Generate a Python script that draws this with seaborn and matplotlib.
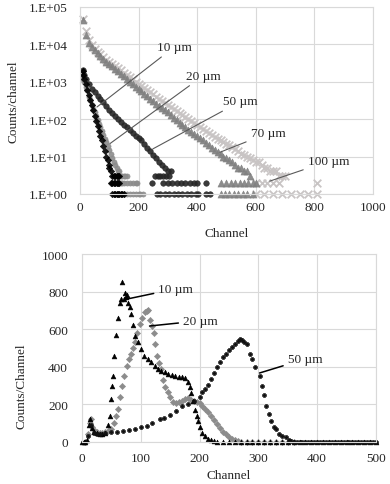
import numpy as np
import pandas as pd
import matplotlib
matplotlib.use("Agg")
import matplotlib.pyplot as plt
import seaborn as sns
from matplotlib.ticker import FixedLocator, FuncFormatter, MultipleLocator

# Top panel: counts/channel (log) vs channel
top_ch_10 = [10, 12, 15, 20, 25, 30, 35, 40, 45, 50, 55, 60, 65, 70, 75, 80, 85, 90, 95, 100,
             100, 105, 110, 115, 120, 125, 130, 135,
             105, 110, 115, 120, 125, 130, 135,
             110, 115, 120, 125, 130, 135, 140, 145, 150]
top_ct_10 = [1900, 1500, 1200, 850, 600, 430, 320, 240, 170, 120, 90, 66, 48, 36, 27, 19, 14, 10, 8, 6,
             5, 4, 3, 3, 3, 3, 3, 3,
             2, 2, 2, 2, 2, 2, 2,
             1, 1, 1, 1, 1, 1, 1, 1, 1]

top_ch_20 = [10, 15, 20, 25, 30, 35, 40, 45, 50, 55, 60, 65, 70, 75, 80, 85, 90, 95, 100, 105, 110, 115, 120,
             125, 130, 135, 140, 145, 150, 155, 160,
             140, 145, 150, 160, 170, 180, 190, 195,
             150, 160, 170, 180, 190, 200, 205, 215]
top_ct_20 = [1200, 950, 700, 600, 400, 320, 240, 190, 150, 120, 95, 75, 60, 48, 38, 30, 24, 19, 15, 12, 9, 7, 6,
             5, 4, 4, 3, 3, 3, 3, 3,
             2, 2, 2, 2, 2, 2, 2, 2,
             1, 1, 1, 1, 1, 1, 1, 1]

top_ch_50 = [10, 15, 20, 30, 40, 50, 60, 70, 80, 90, 100, 110, 120, 130, 140, 150, 160, 170, 180,
             190, 200, 210, 220, 230, 240, 250, 260, 270, 280, 290, 300, 310,
             255, 265, 275, 285, 295, 305,
             245, 285, 300, 315, 330, 345, 360, 375, 390, 400, 432,
             262, 275, 290, 305, 320, 335, 350, 365, 380, 395, 404, 432, 445]
top_ct_50 = [2000, 1500, 1150, 850, 650, 520, 420, 340, 280, 220, 180, 145, 120, 100, 85, 70, 60, 50, 42,
             36, 31, 27, 22, 17, 14, 11, 9, 7, 6, 5, 4, 4,
             3, 3, 3, 3, 3, 3,
             2, 2, 2, 2, 2, 2, 2, 2, 2, 2, 2,
             1, 1, 1, 1, 1, 1, 1, 1, 1, 1, 1, 1, 1]

top_ch_70 = [10, 20, 30, 40, 50, 60, 70, 80, 90, 100, 110, 120, 130, 140, 150, 160, 170, 180, 190, 200,
             210, 220, 230, 240, 250, 260, 270, 280, 290, 300, 310, 320, 330, 340, 350, 360, 370, 380,
             390, 400, 410, 420, 430, 440, 450, 460, 470, 480, 490, 500, 510, 520, 530, 540, 550, 560,
             570, 580,
             480, 500, 515, 530, 545, 560, 575, 590, 600,
             480, 495, 510, 525, 540, 555, 570, 590]
top_ct_70 = [44000, 18000, 11000, 8200, 6800, 5700, 4800, 4000, 3400, 2950, 2550, 2200, 1900, 1600, 1380, 1150, 1000, 850, 740, 640,
             550, 470, 410, 350, 300, 260, 225, 195, 170, 150, 128, 110, 95, 80, 70, 60, 52, 45,
             40, 36, 31, 27, 23, 20, 17, 15, 13, 12, 10, 9, 8, 7, 6, 5, 5, 4,
             4, 3,
             2, 2, 2, 2, 2, 2, 2, 2, 2,
             1, 1, 1, 1, 1, 1, 1, 1]

top_ch_100 = [10, 20, 30, 40, 50, 60, 70, 80, 90, 100, 110, 120, 130, 140, 150, 160, 170, 180, 190, 200,
              210, 220, 230, 240, 250, 260, 270, 280, 290, 300, 310, 320, 330, 340, 350, 360, 370, 380,
              390, 400, 410, 420, 430, 440, 450, 460, 470, 480, 490, 500, 510, 520, 530, 540, 550, 560,
              570, 580, 590, 600, 610, 620, 630, 640, 650, 660, 670, 680, 690, 700,
              600, 620, 640, 660, 680, 810,
              600, 630, 660, 690, 720, 750, 780, 810]
top_ct_100 = [48000, 22000, 13000, 9500, 7600, 6300, 5400, 4600, 3900, 3400, 3000, 2600, 2300, 2000, 1700, 1500, 1300, 1150, 1000, 870,
              770, 680, 600, 520, 460, 400, 350, 310, 270, 240, 210, 185, 165, 145, 130, 115, 100, 90,
              80, 70, 62, 55, 48, 43, 38, 34, 30, 27, 24, 22, 20, 18, 16, 14, 12, 11,
              10, 9, 8, 7, 7, 6, 5, 5, 4, 4, 4, 3, 3, 3,
              2, 2, 2, 2, 2, 2,
              1, 1, 1, 1, 1, 1, 1, 1]

# Bottom panel: counts/channel (linear) vs channel
bot_ch_10 = [0, 3, 6, 9, 12, 14, 17, 21, 25, 30, 35, 40, 44, 47, 49, 51, 53, 55, 58, 61, 64, 66, 69,
             71, 73, 75, 77, 79, 81, 84, 87, 90, 95, 101, 106, 112, 118, 124, 130, 135, 141, 147,
             153, 159, 165, 170, 175, 180, 183, 186, 189, 192, 195, 198, 201, 205, 210, 215, 220, 225, 230]
bot_ct_10 = [0, 0, 0, 10, 90, 120, 75, 55, 50, 45, 45, 50, 90, 140, 230, 300, 350, 460, 570, 660, 740, 760, 850,
             760, 790, 770, 780, 740, 720, 680, 620, 565, 530, 495, 460, 440, 425, 405, 390, 380, 372, 360,
             355, 350, 348, 345, 340, 320, 290, 260, 220, 170, 140, 110, 80, 50, 30, 18, 10, 5, 2]
bot_ch_10 = bot_ch_10 + list(range(240, 501, 10))
bot_ct_10 = bot_ct_10 + [0] * len(range(240, 501, 10))

bot_ch_20 = [5, 10, 13, 15, 18, 22, 26, 30, 35, 40, 45, 50, 55, 58, 61, 65, 68, 72, 76, 80, 83, 87, 90,
             94, 98, 102, 107, 110, 113, 116, 119, 122, 125, 128, 131, 135, 138, 142, 146, 150, 155,
             160, 165, 170, 175, 180, 185, 190, 195, 200, 205, 210, 215, 220, 225, 230, 235, 240, 245,
             250, 255, 260, 265, 270]
bot_ct_20 = [0, 40, 100, 120, 80, 60, 55, 50, 50, 55, 60, 70, 100, 140, 176, 240, 300, 350, 404, 440, 470, 500, 532,
             580, 630, 660, 690, 695, 700, 650, 617, 580, 520, 460, 420, 388, 330, 290, 266, 240, 215,
             210, 212, 220, 228, 232, 225, 218, 212, 205, 192, 178, 160, 140, 115, 95, 75, 55, 40,
             28, 18, 10, 5, 2]
bot_ch_20 = bot_ch_20 + list(range(280, 361, 10))
bot_ct_20 = bot_ct_20 + [0] * len(range(280, 361, 10))

bot_ch_50 = [10, 15, 20, 25, 30, 40, 50, 60, 70, 80, 90, 100, 110, 120, 132, 140, 150, 160, 171, 180, 190,
             200, 205, 210, 215, 220, 225, 230, 234, 240, 245, 250, 255, 260, 265, 268, 272, 276, 280,
             285, 290, 295, 302, 306, 310, 313, 318, 322, 326, 330, 335, 340, 347, 352, 356, 360]
bot_ct_50 = [30, 90, 50, 45, 45, 48, 52, 55, 60, 65, 70, 78, 85, 100, 122, 130, 145, 165, 191, 200, 220,
             240, 266, 280, 305, 335, 365, 400, 425, 450, 470, 490, 505, 520, 535, 548, 540, 530, 520,
             468, 440, 400, 351, 300, 250, 191, 150, 110, 80, 69, 45, 30, 27, 12, 6, 2]
bot_ch_50 = bot_ch_50 + list(range(365, 501, 5))
bot_ct_50 = bot_ct_50 + [0] * len(range(365, 501, 5))

SERIF = ["Liberation Serif", "DejaVu Serif"]
GRID = "#d9d9d9"
TXT = "#262626"

sns.set_theme(style="whitegrid")
plt.rcParams["font.family"] = SERIF
plt.rcParams["axes.edgecolor"] = GRID
plt.rcParams["grid.color"] = GRID

fig = plt.figure(figsize=(3.9, 4.85), dpi=100)
ax1 = fig.add_axes([0.205, 0.598, 0.751, 0.386])
ax2 = fig.add_axes([0.210, 0.0866, 0.754, 0.3876])

# top panel
top_series = [
    (top_ch_100, top_ct_100, "#c8c4c4", "x", 30, 1.3),
    (top_ch_70, top_ct_70, "#808080", "^", 26, 0),
    (top_ch_50, top_ct_50, "#262626", "o", 16, 0),
    (top_ch_20, top_ct_20, "#8c8c8c", "o", 14, 0),
    (top_ch_10, top_ct_10, "#000000", "D", 11, 0),
]
for ch, ct, col, mk, sz, lw in top_series:
    df = pd.DataFrame({"Channel": ch, "Counts": ct})
    if mk == "x":
        sns.scatterplot(data=df, x="Channel", y="Counts", ax=ax1, color=col, marker=mk,
                        s=sz, linewidth=lw, clip_on=False)
    else:
        sns.scatterplot(data=df, x="Channel", y="Counts", ax=ax1, color=col, marker=mk,
                        s=sz, edgecolor=col, linewidth=0.4, alpha=0.9, clip_on=False)

ax1.set_yscale("log")
ax1.set_ylim(1, 1e5)
ax1.set_xlim(0, 1000)
ax1.xaxis.set_major_locator(MultipleLocator(200))
ax1.yaxis.set_major_locator(FixedLocator([1, 10, 100, 1e3, 1e4, 1e5]))
ax1.yaxis.set_minor_locator(FixedLocator([]))
ax1.yaxis.set_major_formatter(FuncFormatter(lambda v, p: "1.E+%02d" % int(round(np.log10(v)))))
ax1.set_xlabel("Channel", fontsize=9.5, color=TXT, labelpad=10)
ax1.set_ylabel("Counts/channel", fontsize=9.5, color=TXT)
ax1.yaxis.set_label_coords(-0.208, 0.5)

top_labels = [
    ("10 µm", (58, 210), (263, 8500)),
    ("20 µm", (102, 22), (362, 1450)),
    ("50 µm", (249, 16), (490, 300)),
    ("70 µm", (478, 13), (583, 42)),
    ("100 µm", (648, 2.2), (778, 7.5)),
]
for txt, pt, tpos in top_labels:
    ax1.annotate(txt, xy=pt, xytext=tpos, fontsize=9.5, color=TXT, va="center", ha="left",
                 arrowprops=dict(arrowstyle="-", color="#595959", lw=0.8, shrinkA=1, shrinkB=0))

# bottom panel
bot_series = [
    (bot_ch_20, bot_ct_20, "#8c8c8c", "D", 10),
    (bot_ch_10, bot_ct_10, "#000000", "^", 12),
    (bot_ch_50, bot_ct_50, "#111111", "P", 7),
]
for ch, ct, col, mk, sz in bot_series:
    df = pd.DataFrame({"Channel": ch, "Counts": ct})
    sns.scatterplot(data=df, x="Channel", y="Counts", ax=ax2, color=col, marker=mk,
                    s=sz, edgecolor=col, linewidth=0.4, clip_on=False)

ax2.set_xlim(0, 500)
ax2.set_ylim(0, 1000)
ax2.xaxis.set_major_locator(MultipleLocator(100))
ax2.yaxis.set_major_locator(MultipleLocator(200))
ax2.set_xlabel("Channel", fontsize=9.5, color=TXT, labelpad=4)
ax2.set_ylabel("Counts/Channel", fontsize=9.5, color=TXT)
ax2.yaxis.set_label_coords(-0.184, 0.30)

bot_labels = [
    ("10 µm", (76, 760), (130, 815)),
    ("20 µm", (115, 617), (172, 645)),
    ("50 µm", (302, 367), (350, 441)),
]
for txt, pt, tpos in bot_labels:
    ax2.annotate(txt, xy=pt, xytext=tpos, fontsize=9.5, color=TXT, va="center", ha="left",
                 arrowprops=dict(arrowstyle="-", color="#000000", lw=1.1, shrinkA=1, shrinkB=0))

for ax in (ax1, ax2):
    ax.grid(True, color=GRID, lw=0.8)
    ax.set_axisbelow(True)
    for sp in ax.spines.values():
        sp.set_color(GRID)
        sp.set_linewidth(0.8)
    ax.tick_params(axis="both", length=0, labelsize=9.5, labelcolor=TXT)
    ax.tick_params(axis="y", pad=9)
    ax.tick_params(axis="x", pad=5)
    ax.set_facecolor("white")

ax2.tick_params(axis="y", pad=10)
ax2.tick_params(axis="x", pad=7)

fig.savefig("out.png", dpi=100, facecolor="white")
